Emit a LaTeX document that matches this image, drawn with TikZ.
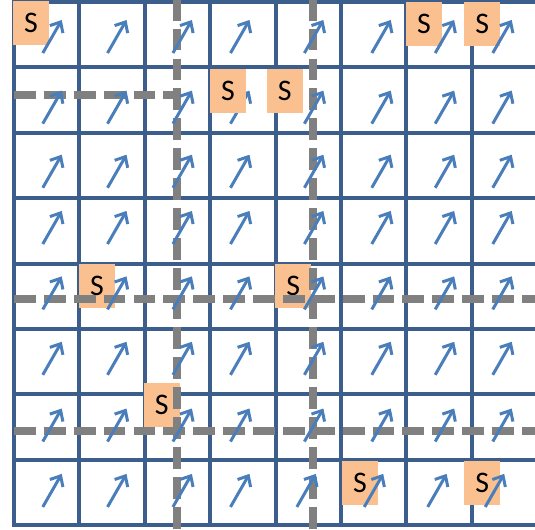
\documentclass[tikz,border=0pt]{standalone}
\usepackage{fontspec}
\setmainfont{Carlito}
\usetikzlibrary{arrows.meta}
\definecolor{gridblue}{HTML}{3B5E8C}
\definecolor{flowblue}{HTML}{4A7EBB}
\definecolor{cutgray}{HTML}{808080}
\definecolor{srcorange}{HTML}{FAC090}
\tikzset{
  gridline/.style={draw=gridblue, line width=1.7pt, line cap=rect},
  cutline/.style={draw=cutgray, line width=3.2pt, dash pattern=on 9.5pt off 3.5pt},
  flow/.style={draw=flowblue, line width=1.3pt, -{Straight Barb[length=1.3mm,width=2.3mm]}},
  srcbox/.style={fill=srcorange, minimum width=0.55cm, minimum height=0.67cm, inner sep=0pt, font=\fontsize{13}{13}\selectfont}
}
\begin{document}
\begin{tikzpicture}[x=1cm, y=1cm]

\useasboundingbox (-0.214,-0.058) rectangle (7.966,8.031);
\clip (-0.214,-0.058) rectangle (7.966,8.031);

% cells
\draw [gridline] (0,0) grid (8,8);

% sources below the flow
\foreach \n/\x/\y in {1/0.26/7.68, 3/4.14/6.64, 4/6.27/7.66, 5/7.16/7.66, 6/1.27/3.66,
                      7/2.26/1.84, 8/4.27/3.66, 9/5.29/0.65, 10/7.16/0.65}
  \node [srcbox] (src\n) at (\x,\y) {S};

% cuts
\draw [cutline] (2.49,8.05) -- (2.49,-0.08);
\draw [cutline] (4.57,8.05) -- (4.57,-0.08);
\draw [cutline] (0,6.58) -- (2.49,6.58);
\draw [cutline] (0,3.46) -- (8,3.46);
\draw [cutline] (0,1.44) -- (8,1.44);

% flow in each cell
\foreach \c/\dx in {0/0.44,1/0.43,2/0.43,3/0.31,4/0.44,5/0.47,6/0.44,7/0.32}
  \foreach \r/\dy in {0/0.78,1/0.86,2/0.84,3/0.70,4/0.70,5/0.70,6/0.72,7/0.72} {
    \pgfmathsetmacro\sx{(\r==7 && \c>3) ? -0.115 : 0}
    \draw [flow] (\c+\dx+\sx, 8-\r-\dy) -- ++(0.29,0.505);
  }

% this one covers its arrow
\node [srcbox] (src2) at (3.27,6.64) {S};

\end{tikzpicture}
\end{document}
